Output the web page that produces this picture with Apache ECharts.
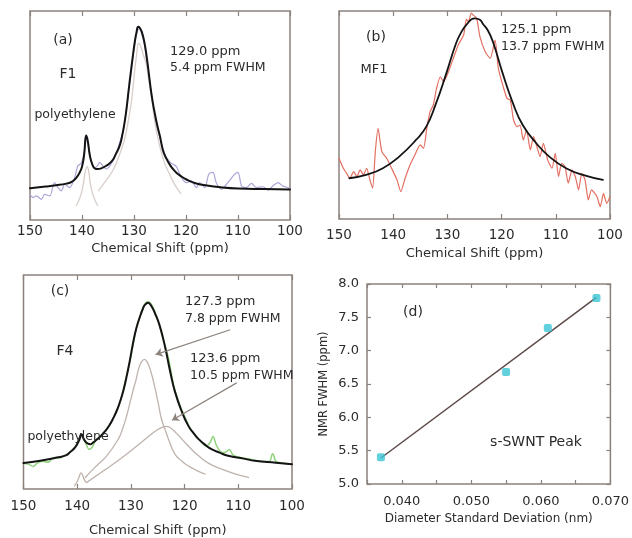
<!DOCTYPE html>
<html><head><meta charset="utf-8">
<script src="https://cdn.jsdelivr.net/npm/echarts@6/dist/echarts.min.js"></script>
<style>html,body{margin:0;padding:0;background:#fff}#c{width:632px;height:538px}</style>
</head><body><div id="c"></div>
<script>
// ---- panel (a) F1 : [ppm, intensity a.u.]
const aFit = [[150,15.2],[147,16.0],[145,16.6],[143,17.4],[142,18.2],[141,20.5],[140.4,23],[140,25.5],[139.6,31],[139.2,40.4],[138.9,38],[138.5,31],[138,26.5],[137.5,24.6],[137,24.4],[136.3,24.7],[135.3,26],[134.3,28],[133.5,31.5],[132.75,35.6],[132.3,40],[131.8,46.8],[131.4,54],[131,62.8],[130.6,71],[130.2,78.8],[129.8,86],[129.5,90],[129.2,92.5],[128.9,92],[128.5,90],[128,85],[127.5,77],[127,67],[126.5,58],[126,51],[125.5,45],[125,40],[124.5,34],[124,30.5],[123,26],[122,23],[121,21],[120,19.5],[118,17.5],[116,16.5],[113,15.6],[110,15.1],[105,14.8],[100,14.6]];
const aMain = [[136.8,14],[135.5,18.5],[134.7,21.2],[133.8,25],[133.1,29.2],[132.4,34],[131.8,38.8],[131.2,46],[130.6,54.8],[130.2,63],[129.9,70.8],[129.5,79],[129.1,84.6],[128.7,83],[128.2,79],[127.6,74],[127.1,66],[126.6,58],[126.0,47],[125.3,38],[124.7,32],[124,26.5],[123.1,21.6],[122.3,17.5],[121.5,14.4],[121,12.8]];
const aPoly = [[141.1,7],[140.6,9.5],[140.1,13],[139.7,18],[139.3,24],[139.0,25.5],[138.7,23],[138.4,17.5],[138,13],[137.5,9.5],[137,7]];
const aRaw = [[150,12.3],[149.4,10.7],[148.8,11.5],[147.8,9.9],[147.2,12.3],[146.2,11.5],[145.3,17.9],[144.6,15.5],[144.0,13.9],[143.3,17.1],[142.4,15.5],[141.4,20.4],[140.8,26],[140.2,27],[139.6,32],[139.1,39],[138.6,33],[138.1,27],[137.5,25],[137,26],[136.6,27.6],[135.9,25.5],[135.3,24.4],[134.4,26.8],[133.7,30],[133,35],[132,44],[131,62],[130,82],[129.5,89],[129,91.5],[128.5,89],[128,84],[127,66],[126,50],[125,39],[124,31],[123,27.5],[122.4,26.5],[121.85,25.6],[120.9,20.4],[119.9,17.9],[119.0,18.75],[118.0,15.5],[117.4,17.9],[116.4,15.5],[115.6,22],[114.8,22.8],[114.2,17.9],[113.2,14.7],[112.2,17.1],[111.4,19.6],[110.6,22],[110.0,22.8],[109.3,16.3],[108.4,15.5],[107.4,17.5],[106.5,15.5],[105.2,15.9],[104.2,14.3],[103.3,16.3],[102.3,17.9],[101.4,16.3],[100.4,15.5],[100,14.5]];
// ---- panel (b) MF1
const bFit = [[148.1,19.6],[145,21.2],[141.9,24.4],[138.9,30],[135.8,38],[133.9,44.4],[132.1,55.6],[130.2,70],[128.4,84.5],[127.5,89.5],[126.5,93.3],[125,96.5],[124,95.8],[123.5,94],[122.5,90.5],[121.6,85.2],[119.8,70],[117.9,55.6],[116.1,45.2],[113.6,36.4],[111.2,30],[108.1,24.4],[105,21.2],[101.3,18.8]];
const bRaw = [[150,29.2],[149.2,24.4],[148.6,22],[148,19.6],[147.3,22.8],[146.7,20.4],[146.1,23.6],[145.5,21.2],[144.9,24.4],[144.3,18.8],[143.8,14.8],[143.3,32.4],[142.8,43.6],[142.1,32.4],[141.2,29.2],[140.3,24.4],[139.3,18.8],[138.6,13.1],[137.8,19.6],[136.9,26],[136,30.8],[135,35.6],[134.4,34],[133.8,43.6],[133.2,51.6],[132.6,54.8],[132,62.8],[131.3,68.4],[130.7,66],[129.8,70.8],[128.9,77.3],[128,83.7],[127,88.5],[126.5,96],[126.1,94.9],[125.6,99],[125.2,98],[124.6,96.5],[124,87.7],[123,80.3],[122.1,77.2],[121.2,86],[120.6,72.4],[119.7,63.6],[119,58],[118.4,57.2],[117.8,47.6],[117.2,44.4],[116.6,45.2],[116,38],[115.4,42.8],[114.7,33.2],[114.1,39.6],[113.5,34.8],[112.9,30],[112.3,36.4],[111.5,28.4],[110.7,24.4],[110.1,31.6],[109.5,20.4],[108.9,26.8],[108.3,25.2],[107.7,17.2],[107,23.6],[106.4,20.4],[105.8,14],[105.2,22],[104.6,18.8],[104,9.2],[103.4,14],[102.4,10.7],[101.8,5.9],[101.2,12.3],[100.6,7.5],[100,10.7]];
// ---- panel (c) F4
const cFit = [[150,12.1],[146.9,13.2],[143.8,14.7],[142,15.8],[141.3,17.3],[140.6,18.8],[140.1,20.5],[139.6,23],[139.2,25.6],[138.8,23.5],[138.5,22.3],[138,21.2],[137.6,20.9],[137,21.8],[136.4,23],[135.6,24.8],[134.8,27],[134,29.8],[133.3,33],[132.6,36.8],[132,41],[131.4,46],[130.8,52.5],[130.2,60],[129.6,68.2],[129,75],[128.3,80.6],[127.8,84],[127.4,86],[126.8,87],[126.2,85.5],[125.5,82],[124.6,76],[123.6,66],[122.7,55],[121.8,45.5],[120.5,36],[119.3,29.5],[118.3,26],[117.4,23.3],[116,20.3],[115,18.6],[113.5,17],[111.9,15.5],[109,14.2],[106.9,13.2],[103,12.3],[100,11.6]];
const cRaw = [[150,12],[149,11.5],[148.2,10.5],[147.5,12],[146.5,13],[145.4,12.5],[144.5,14.5],[143.5,14.5],[142,16],[141,18],[140.2,20.5],[139.6,23.5],[139.2,25.8],[138.8,23.5],[138.3,20.8],[137.8,18.5],[137.2,19.5],[136.5,23],[135.5,25],[134,30],[133,34.5],[132,40.5],[131,51],[130,62],[129,75],[128,83],[127.4,86.5],[126.8,87.5],[126,85.5],[125,79],[124,70],[123,61],[122,48],[121,40],[120,34],[119,28.5],[118,25],[117,22.5],[116,20],[115.3,21.5],[114.7,24.5],[114.1,20.5],[113.3,17.5],[112.5,17],[111.7,18.5],[111,16],[110,15],[108,14],[106,13],[104.3,12.8],[103.6,16.5],[103,13],[102,12.2],[101,11.8],[100,11.5]];
const cComp1 = [[138.5,5.4],[136.7,10.1],[134.5,15.5],[132.35,23.3],[131.5,28.5],[130.8,34.1],[130.2,40],[129.55,46.5],[129,51.5],[128.6,55.8],[128,59.5],[127.5,60.6],[127,59.5],[126.3,55],[125.5,47],[124.9,40],[124.3,32.6],[123.6,27.5],[123,23.3],[121.8,16.3],[120.5,13],[119.3,10.8],[117.8,8.7],[116.2,7]];
const cComp2 = [[138.2,3.1],[135.1,8.5],[132,14],[128.9,20.1],[126.5,25],[125,27.8],[124,29],[123.4,29.3],[122.6,28.5],[121.5,26],[120.5,23.3],[119,19.3],[117.4,15.5],[115.5,12],[113.1,9.3],[110.5,7],[108.1,5.4]];
const cPoly = [[140.5,1.5],[140,3.5],[139.6,6],[139.3,7.5],[139,6.5],[138.7,4.5],[138.3,3]];
const cArrows = [[[111.5,74.4],[125.4,62.8]],[[110.3,49.6],[122.35,32.1]]];
// ---- panel (d)
const dX = [0.037, 0.055, 0.061, 0.068];
const dY = [5.40, 6.68, 7.34, 7.79];
const dFitX = [0.037, 0.068];
const dFitY = [5.39, 7.80];

const FRAME = '#8a817c', TXT = '#2b2b2b', FONT = 'DejaVu Sans';
const grids = [
  {left:30, top:11, width:260, height:209},
  {left:339, top:11, width:271, height:208},
  {left:23.5, top:275, width:268.5, height:215},
  {left:367, top:284, width:246, height:200}
].map(g => Object.assign(g, {show:true, borderColor:FRAME, borderWidth:1.5, backgroundColor:'#fff'}));

const labMargin = [4, 9, 10];
const nameGaps = [22, 28, 35];
const xAxes = [];
for (let i = 0; i < 3; i++) {
  const base = {gridIndex:i, type:'value', min:100, max:150, interval:10, inverse:true,
    axisLine:{show:false}, splitLine:{show:false},
    axisTick:{show:true, inside:true, length:5, lineStyle:{color:FRAME, width:1.2}}};
  xAxes.push(Object.assign({}, base, {position:'bottom',
    axisLabel:{margin:labMargin[i], color:TXT, fontSize:13.5, fontFamily:FONT},
    name:'Chemical Shift (ppm)', nameLocation:'middle', nameGap:nameGaps[i],
    nameTextStyle:{color:TXT, fontSize:13, fontFamily:FONT}}));
  xAxes.push(Object.assign({}, base, {position:'top', axisLabel:{show:false}}));
}
const dxBase = {gridIndex:3, type:'value', min:0.035, max:0.070, interval:0.005,
  axisLine:{show:false}, splitLine:{show:false},
  axisTick:{show:true, inside:true, length:4, lineStyle:{color:FRAME, width:1.2}}};
xAxes.push(Object.assign({}, dxBase, {position:'bottom',
  axisLabel:{margin:11, color:TXT, fontSize:13, fontFamily:FONT,
    formatter: v => (Math.abs(v*100 - Math.round(v*100)) < 1e-6 ? v.toFixed(3) : '')},
  name:'Diameter Standard Deviation (nm)', nameLocation:'middle', nameGap:29,
  nameTextStyle:{color:TXT, fontSize:12, fontFamily:FONT}}));
xAxes.push(Object.assign({}, dxBase, {position:'top', axisLabel:{show:false}}));

const yAxes = [0,1,2].map(i => ({gridIndex:i, type:'value', min:0, max:100, show:false}));
const dyBase = {gridIndex:3, type:'value', min:5, max:8, interval:0.5,
  axisLine:{show:false}, splitLine:{show:false},
  axisTick:{show:true, inside:true, length:4, lineStyle:{color:FRAME, width:1.2}}};
yAxes.push(Object.assign({}, dyBase, {position:'left',
  axisLabel:{margin:8, color:TXT, fontSize:13, fontFamily:FONT, formatter: v => v.toFixed(1)},
  name:'NMR FWHM (ppm)', nameLocation:'middle', nameGap:37, nameRotate:90,
  nameTextStyle:{color:TXT, fontSize:11.5, fontFamily:FONT}}));
yAxes.push(Object.assign({}, dyBase, {position:'right', axisLabel:{show:false}}));

function ln(data, xi, yi, color, width, z, smooth) {
  return {type:'line', data, xAxisIndex:xi, yAxisIndex:yi, showSymbol:false, silent:true,
    smooth: smooth, lineStyle:{color, width, join:'round', cap:'round'}, z, clip:true};
}
const RAW_A = '#aba5d8', RAW_B = '#e26f60', RAW_C = '#8fd27c', GRAY_A = '#d8ceca', GRAY_C = '#bfb3ad', BLK = '#141414';

const series = [
  ln(aRaw, 0, 0, RAW_A, 1.2, 1, 0.3),
  ln(aMain, 0, 0, GRAY_A, 1.3, 2, 0.5),
  ln(aPoly, 0, 0, GRAY_A, 1.3, 2, 0.5),
  ln(aFit, 0, 0, BLK, 2, 3, 0.5),
  ln(bRaw, 2, 1, RAW_B, 1.2, 1, 0.2),
  ln(bFit, 2, 1, BLK, 1.8, 3, 0.5),
  ln(cRaw, 4, 2, RAW_C, 1.5, 1, 0.4),
  Object.assign(ln(cComp1, 4, 2, GRAY_C, 1.3, 2, 0.5), {
    markLine:{silent:true, symbol:['none','arrow'], symbolSize:7, animation:false,
      label:{show:false}, lineStyle:{color:'#8d837d', width:1.2, type:'solid'},
      data: cArrows.map(a => [{coord:a[0]}, {coord:a[1]}])}}),
  ln(cComp2, 4, 2, GRAY_C, 1.3, 2, 0.5),
  ln(cPoly, 4, 2, GRAY_C, 1.3, 2, 0.5),
  ln(cFit, 4, 2, BLK, 2, 3, 0.5),
  {type:'line', data:dFitX.map((x,i)=>[x,dFitY[i]]), xAxisIndex:6, yAxisIndex:3, showSymbol:false,
    lineStyle:{color:'#5b4a47', width:1.5}, z:2},
  {type:'scatter', data:dX.map((x,i)=>[x,dY[i]]), xAxisIndex:6, yAxisIndex:3,
    symbol:'roundRect', symbolSize:8, itemStyle:{color:'#3cc4d6'}, z:3}
];

function t(text, x, y, align, size) {
  return {type:'text', x, y, z:10, style:{text, fill:TXT, font: size + 'px "' + FONT + '"',
    align: align || 'center', verticalAlign:'middle'}};
}
const graphic = [
  t('(a)', 63, 40, 'center', 14), t('F1', 68, 74, 'center', 14), t('polyethylene', 75, 115, 'center', 12.5),
  t('129.0 ppm', 170, 52, 'left', 13), t('5.4 ppm FWHM', 170, 68, 'left', 12.5),
  t('(b)', 376, 37, 'center', 14), t('MF1', 374, 70, 'center', 13),
  t('125.1 ppm', 501, 30, 'left', 13), t('13.7 ppm FWHM', 501, 46.5, 'left', 12.5),
  t('(c)', 60, 291, 'center', 14), t('F4', 65, 351, 'center', 14), t('polyethylene', 68, 437, 'center', 12.5),
  t('127.3 ppm', 185, 302, 'left', 13), t('7.8 ppm FWHM', 185, 319, 'left', 12.5),
  t('123.6 ppm', 190, 359, 'left', 13), t('10.5 ppm FWHM', 190, 376, 'left', 12.5),
  t('(d)', 413, 312, 'center', 14), t('s-SWNT Peak', 536, 442, 'center', 14)
];

const chart = echarts.init(document.getElementById('c'), null, {renderer:'canvas'});
chart.setOption({animation:false, backgroundColor:'#fff', textStyle:{fontFamily:FONT},
  grid:grids, xAxis:xAxes, yAxis:yAxes, series, graphic});
</script></body></html>
